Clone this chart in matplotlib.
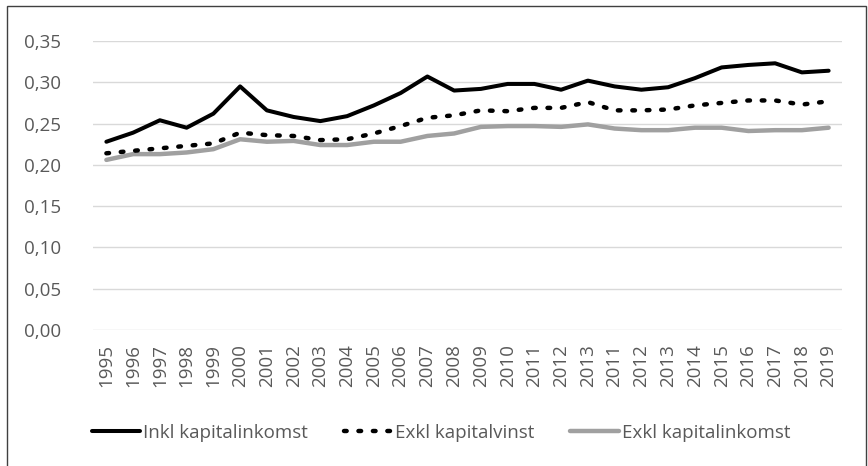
import matplotlib
matplotlib.use("Agg")
import matplotlib.pyplot as plt
from matplotlib.patches import Rectangle

years = ["1995", "1996", "1997", "1998", "1999", "2000", "2001", "2002", "2003", "2004",
         "2005", "2006", "2007", "2008", "2009", "2010", "2011", "2012", "2013",
         "2011", "2012", "2013", "2014", "2015", "2016", "2017", "2018", "2019"]

inkl_kapitalinkomst = [0.228, 0.239, 0.254, 0.245, 0.262, 0.295, 0.266, 0.258, 0.253, 0.259,
                       0.272, 0.287, 0.307, 0.290, 0.292, 0.298, 0.298, 0.291, 0.302,
                       0.295, 0.291, 0.294, 0.305, 0.318, 0.321, 0.323, 0.312, 0.314]

exkl_kapitalvinst = [0.214, 0.217, 0.220, 0.223, 0.226, 0.239, 0.236, 0.235, 0.230, 0.231,
                     0.238, 0.247, 0.257, 0.260, 0.266, 0.265, 0.269, 0.269, 0.276,
                     0.266, 0.266, 0.267, 0.272, 0.275, 0.278, 0.278, 0.273, 0.277]

exkl_kapitalinkomst = [0.206, 0.213, 0.213, 0.215, 0.219, 0.231, 0.228, 0.229, 0.224, 0.224,
                       0.228, 0.228, 0.235, 0.238, 0.246, 0.247, 0.247, 0.246, 0.249,
                       0.244, 0.242, 0.242, 0.245, 0.245, 0.241, 0.242, 0.242, 0.245]

yticks = [0.00, 0.05, 0.10, 0.15, 0.20, 0.25, 0.30, 0.35]

plt.rcParams['font.family'] = ['Open Sans', 'DejaVu Sans']
txt = '#595959'

W, H = 868, 466
fig = plt.figure(figsize=(W / 100, H / 100), dpi=100)
ax = fig.add_axes([93 / W, 1 - 330 / H, (842 - 93) / W, (330 - 41) / H])

x = list(range(len(years)))
l1, = ax.plot(x, inkl_kapitalinkomst, color='black', lw=2.9, solid_capstyle='round',
              solid_joinstyle='round', label='Inkl kapitalinkomst', zorder=4)
l2, = ax.plot(x, exkl_kapitalvinst, color='black', lw=3.2, linestyle=(0, (0.6, 2.65)),
              dash_capstyle='round', label='Exkl kapitalvinst', zorder=3)
l3, = ax.plot(x, exkl_kapitalinkomst, color='#A0A0A0', lw=3.2, solid_capstyle='round',
              solid_joinstyle='round', label='Exkl kapitalinkomst', zorder=2)

ax.set_xlim(-0.5, len(years) - 0.5)
ax.set_ylim(0, 0.35)
ax.set_yticks(yticks)
ax.set_yticklabels([f"{v:.2f}".replace('.', ',') for v in yticks])
ax.set_xticks(x)
ax.set_xticklabels(years, rotation=90)
ax.grid(axis='y', color='#D9D9D9', lw=1.0, zorder=0)
ax.set_axisbelow(True)
for s in ax.spines.values():
    s.set_visible(False)
ax.tick_params(axis='both', length=0, colors=txt, labelsize=13.5)
ax.tick_params(axis='y', pad=23)
ax.tick_params(axis='x', pad=10)

leg = fig.legend(handles=[l1, l2, l3], loc='center', bbox_to_anchor=(441 / W, 1 - 433 / H),
                 ncol=3, frameon=False, fontsize=13.5, handlelength=2.6, handletextpad=0.15,
                 columnspacing=1.9, borderaxespad=0, borderpad=0)
for t in leg.get_texts():
    t.set_color(txt)

fig.patches.append(Rectangle((7 / W, -0.05), (866 - 7) / W, (1 - 6 / H) + 0.05,
                             transform=fig.transFigure, fill=False, edgecolor='#404040',
                             lw=1.0))

fig.savefig('out.png', dpi=100, facecolor='white')
